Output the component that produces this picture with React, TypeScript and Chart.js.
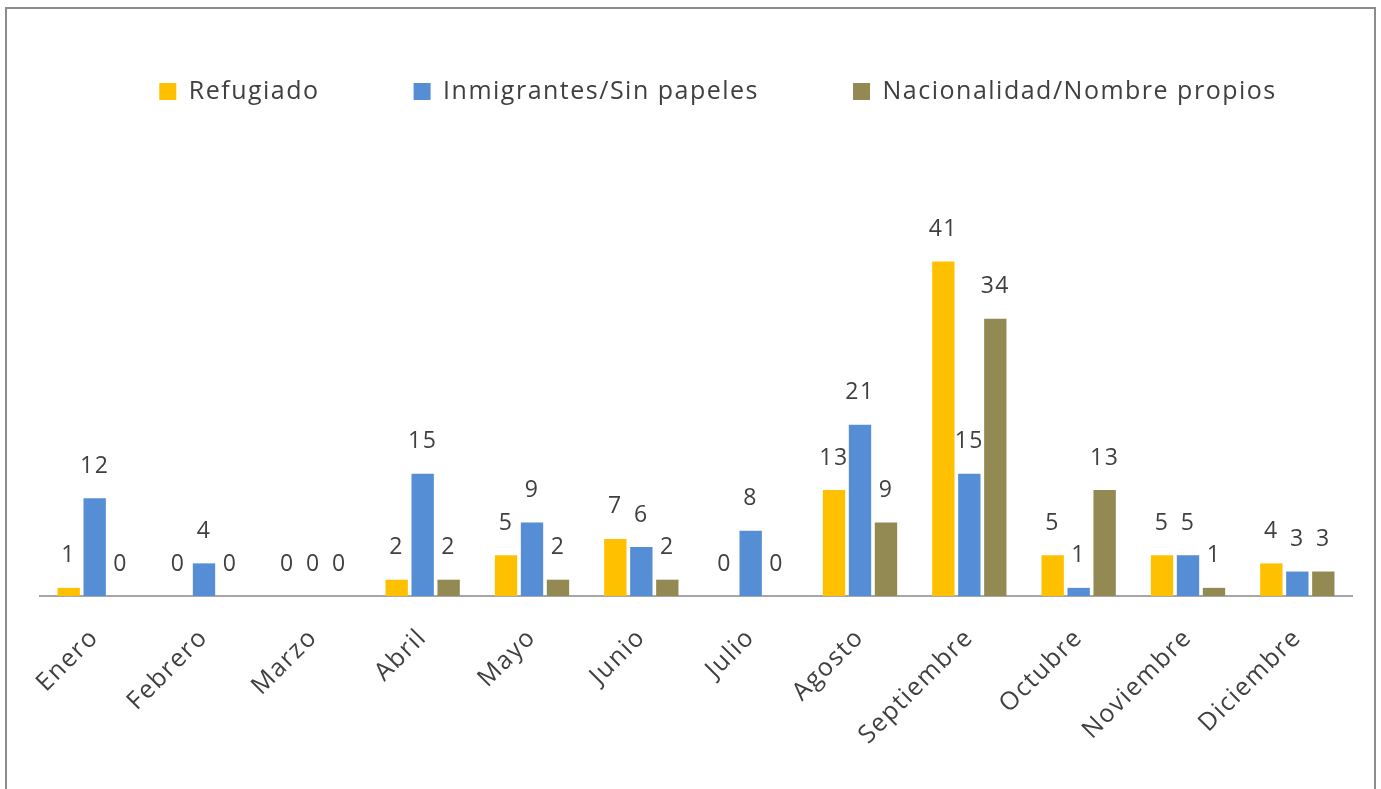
import { useEffect, useRef } from "react";
import { Chart, registerables } from "chart.js";

Chart.register(...registerables);

const months = [
  "Enero",
  "Febrero",
  "Marzo",
  "Abril",
  "Mayo",
  "Junio",
  "Julio",
  "Agosto",
  "Septiembre",
  "Octubre",
  "Noviembre",
  "Diciembre",
];
const refugiado = [1, 0, 0, 2, 5, 7, 0, 13, 41, 5, 5, 4];
const inmigrantes = [12, 4, 0, 15, 9, 6, 8, 21, 15, 1, 5, 3];
const nacionalidad = [0, 0, 0, 2, 2, 2, 0, 9, 34, 13, 1, 3];
const seriesNames = ["Refugiado", "Inmigrantes/Sin papeles", "Nacionalidad/Nombre propios"];
const seriesColors = ["#FFC000", "#558ED5", "#938953"];

const FONT = "'Open Sans', 'DejaVu Sans', sans-serif";
const TEXT = "#404040";
const SPACING = "1.5px";

const letterSpacing = {
  id: "letterSpacing",
  beforeLayout(chart: any) {
    chart.ctx.letterSpacing = SPACING;
  },
  beforeDraw(chart: any) {
    chart.ctx.letterSpacing = SPACING;
  },
};

const valueLabels = {
  id: "valueLabels",
  afterDatasetsDraw(chart: any) {
    const ctx = chart.ctx;
    ctx.save();
    ctx.letterSpacing = SPACING;
    ctx.font = `23px ${FONT}`;
    ctx.fillStyle = TEXT;
    ctx.textAlign = "center";
    ctx.textBaseline = "middle";
    chart.data.datasets.forEach((ds: any, i: number) => {
      const meta = chart.getDatasetMeta(i);
      meta.data.forEach((el: any, j: number) => {
        ctx.fillText(String(ds.data[j]), el.x, el.y - 32);
      });
    });
    ctx.restore();
  },
};

export default function App() {
  const ref = useRef<HTMLCanvasElement>(null);

  useEffect(() => {
    if (!ref.current) return;
    const values = [refugiado, inmigrantes, nacionalidad];
    const chart = new Chart(ref.current, {
      type: "bar",
      data: {
        labels: months,
        datasets: values.map((v, i) => ({
          label: seriesNames[i],
          data: v,
          backgroundColor: seriesColors[i],
          borderWidth: 0,
          barPercentage: 0.86,
          categoryPercentage: 0.713,
        })),
      },
      options: {
        animation: false,
        responsive: false,
        maintainAspectRatio: false,
        layout: { padding: { left: 40, right: 0, top: 2, bottom: 0 } },
        plugins: {
          legend: {
            position: "top",
            labels: {
              font: { family: FONT, size: 25 },
              color: TEXT,
              boxWidth: 17,
              boxHeight: 17,
              padding: 94,
            },
          },
          tooltip: { enabled: false },
        },
        scales: {
          x: {
            grid: { display: false, drawTicks: false },
            border: { display: true, color: "#a6a6a6", width: 2 },
            ticks: {
              font: { family: FONT, size: 25 },
              color: TEXT,
              minRotation: 45,
              maxRotation: 45,
              autoSkip: false,
              padding: 27,
            },
            afterFit: (s: any) => {
              s.paddingLeft = 0;
              s.paddingRight = 44;
              s.height = 190;
            },
          },
          y: { display: false, min: 0, max: 59.1 },
        },
      } as any,
      plugins: [letterSpacing, valueLabels],
    });
    return () => chart.destroy();
  }, []);

  return (
    <div
      style={{
        position: "fixed",
        left: 0,
        top: 0,
        width: 1381,
        height: 789,
        overflow: "hidden",
        background: "#fff",
      }}
    >
      <div
        style={{
          position: "absolute",
          left: 5,
          top: 7,
          width: 1367,
          height: 900,
          border: "2px solid #8c8c8c",
          boxSizing: "content-box",
        }}
      />
      <canvas
        ref={ref}
        width={1396}
        height={803}
        style={{ position: "absolute", left: 0, top: -17, width: 1396, height: 803 }}
      />
    </div>
  );
}
